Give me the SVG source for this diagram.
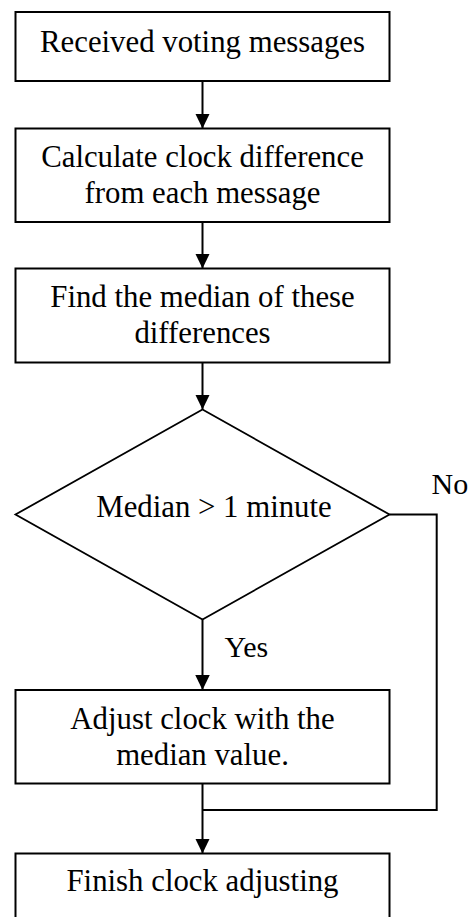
<svg xmlns="http://www.w3.org/2000/svg" width="470" height="917" viewBox="0 0 470 917">
  <style>
    .box { fill: #ffffff; stroke: #000000; stroke-width: 2; }
    .dia { fill: #ffffff; stroke: #000000; stroke-width: 1.8; }
    .lbl { font-family: "Liberation Serif", "Times New Roman", serif; font-size: 30.8px; fill: #000000; text-anchor: middle; }
    .edge { font-family: "Liberation Serif", "Times New Roman", serif; font-size: 30px; fill: #000000; }
    .wire { fill: none; stroke: #000000; stroke-width: 2; }
  </style>
  <defs>
    <marker id="head" markerUnits="userSpaceOnUse" markerWidth="16" markerHeight="15" refX="15" refY="7.25" orient="auto">
      <path d="M0,0 L15,7.25 L0,14.5 z" fill="#000000"/>
    </marker>
  </defs>

  <rect width="470" height="917" fill="#ffffff"/>

  <!-- connectors -->
  <g id="connectors">
    <line class="wire" x1="202.5" y1="81" x2="202.5" y2="128.5" marker-end="url(#head)"/>
    <line class="wire" x1="202.5" y1="222" x2="202.5" y2="268.5" marker-end="url(#head)"/>
    <line class="wire" x1="202.5" y1="362.5" x2="202.5" y2="409.5" marker-end="url(#head)"/>
    <line class="wire" x1="202.5" y1="619.5" x2="202.5" y2="690" marker-end="url(#head)"/>
    <polyline class="wire" points="389.5,514.5 436.7,514.5 436.7,810 202.5,810"/>
    <line class="wire" x1="202.5" y1="783.5" x2="202.5" y2="853.5" marker-end="url(#head)"/>
    <text class="edge" x="431.5" y="493.5">No</text>
    <text class="edge" x="224.5" y="656.7">Yes</text>
  </g>

  <g id="received">
    <rect class="box" x="15.5" y="12" width="374" height="69"/>
    <text class="lbl" x="202.5" y="51.5">Received voting messages</text>
  </g>

  <g id="calculate">
    <rect class="box" x="15.5" y="128.5" width="374" height="93.5"/>
    <text class="lbl" x="202.5" y="166.7">Calculate clock difference</text>
    <text class="lbl" x="202.5" y="203.2">from each message</text>
  </g>

  <g id="median">
    <rect class="box" x="15.5" y="268.5" width="374" height="94"/>
    <text class="lbl" x="202.5" y="306.5">Find the median of these</text>
    <text class="lbl" x="202.5" y="343">differences</text>
  </g>

  <g id="decision">
    <polygon class="dia" points="202.5,409.5 389.5,514.5 202.5,619.5 15.5,514.5"/>
    <text class="lbl" x="214" y="517">Median &gt; 1 minute</text>
  </g>

  <g id="adjust">
    <rect class="box" x="15.5" y="690" width="374" height="93.5"/>
    <text class="lbl" x="202.5" y="728.5">Adjust clock with the</text>
    <text class="lbl" x="202.5" y="765">median value.</text>
  </g>

  <g id="finish">
    <rect class="box" x="15.5" y="853.5" width="374" height="70"/>
    <text class="lbl" x="202.5" y="891">Finish clock adjusting</text>
  </g>
</svg>
